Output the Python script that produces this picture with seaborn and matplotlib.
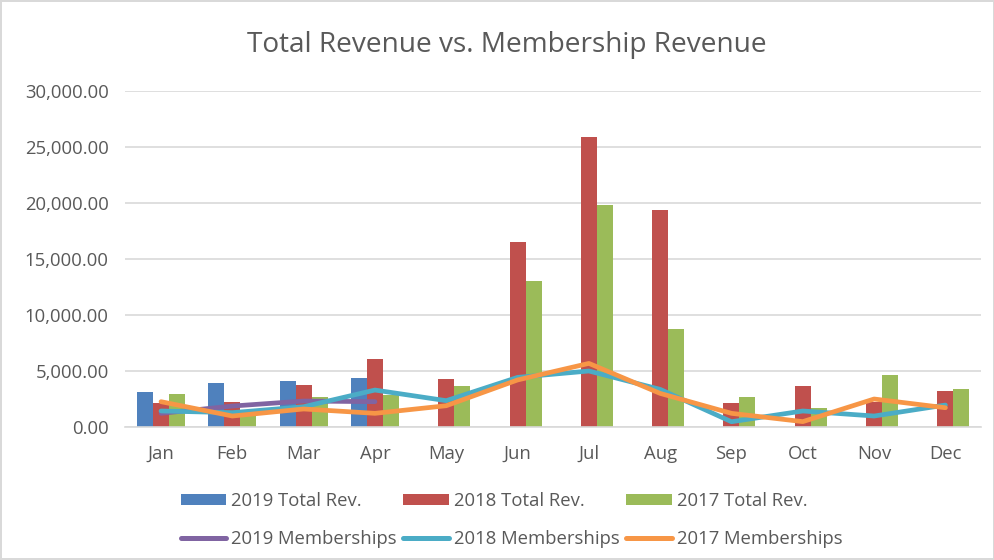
import numpy as np
import pandas as pd
import matplotlib
matplotlib.use("Agg")
import matplotlib.pyplot as plt
import seaborn as sns
from matplotlib.ticker import FuncFormatter, MultipleLocator
from matplotlib.patches import Patch
from matplotlib.lines import Line2D

months = ["Jan", "Feb", "Mar", "Apr", "May", "Jun", "Jul", "Aug", "Sep", "Oct", "Nov", "Dec"]
rev_2019 = [3150, 3900, 4130, 4400]
rev_2018 = [2170, 2230, 3780, 6070, 4310, 16500, 25890, 19380, 2110, 3690, 2260, 3190]
rev_2017 = [2950, 1340, 2680, 2860, 3630, 13040, 19820, 8750, 2710, 1700, 4670, 3420]
mem_2019 = [1220, 1870, 2320, 2260]
mem_2018 = [1430, 1280, 1810, 3300, 2350, 4430, 5000, 3360, 470, 1430, 980, 1960]
mem_2017 = [2260, 980, 1610, 1220, 1900, 4200, 5680, 3000, 1220, 480, 2500, 1720]

bar_labels = ["2019 Total Rev.", "2018 Total Rev.", "2017 Total Rev."]
line_labels = ["2019 Memberships", "2018 Memberships", "2017 Memberships"]
bar_colors = ["#4F81BD", "#C0504D", "#9BBB59"]
line_colors = ["#8064A2", "#4BACC6", "#F79646"]
text_color = "#595959"

sns.set_theme(style="white")
plt.rcParams["font.family"] = ["Open Sans", "DejaVu Sans"]

rows = []
for lab, vals in zip(bar_labels, [rev_2019, rev_2018, rev_2017]):
    for m, v in zip(months, vals):
        rows.append({"Month": m, "Series": lab, "Value": v})
bars_df = pd.DataFrame(rows)

lrows = []
for lab, vals in zip(line_labels, [mem_2019, mem_2018, mem_2017]):
    for i, v in enumerate(vals):
        lrows.append({"pos": i, "Series": lab, "Value": v})
lines_df = pd.DataFrame(lrows)

fig = plt.figure(figsize=(9.95, 5.6), dpi=100)
fig.patch.set_edgecolor("#D9D9D9")
fig.patch.set_linewidth(1.5)
ax = fig.add_axes([0.126, 0.2375, 0.86, 0.6])

sns.barplot(data=bars_df, x="Month", y="Value", hue="Series", order=months,
            hue_order=bar_labels, palette=bar_colors, width=0.673,
            errorbar=None, saturation=1, ax=ax, legend=False, linewidth=0)

sns.lineplot(data=lines_df, x="pos", y="Value", hue="Series", hue_order=line_labels,
             palette=line_colors, linewidth=3.4, ax=ax, legend=False,
             solid_capstyle="round", solid_joinstyle="round")

ax.set_xlim(-0.5, 11.5)
ax.set_ylim(0, 30000)
ax.yaxis.set_major_locator(MultipleLocator(5000))
ax.yaxis.set_major_formatter(FuncFormatter(lambda v, p: f"{v:,.2f}"))
ax.set_xticks(range(len(months)))
ax.set_xticklabels(months)
ax.grid(axis="y", color="#D9D9D9", linewidth=1.2)
ax.set_axisbelow(True)
for s in ["top", "right", "left"]:
    ax.spines[s].set_visible(False)
ax.spines["bottom"].set_color("#D9D9D9")
ax.spines["bottom"].set_linewidth(1.2)
ax.tick_params(axis="both", length=0, labelsize=13.3, colors=text_color)
ax.tick_params(axis="x", pad=13)
ax.tick_params(axis="y", pad=12)
ax.set_xlabel("")
ax.set_ylabel("")

fig.text(0.509, 0.92, "Total Revenue vs. Membership Revenue", ha="center", va="center",
         fontsize=20.2, color=text_color)

handles = []
labels = []
for bl, bc, ll, lc in zip(bar_labels, bar_colors, line_labels, line_colors):
    handles.append(Patch(facecolor=bc, edgecolor="none"))
    labels.append(bl)
    handles.append(Line2D([0], [0], color=lc, linewidth=3.6, solid_capstyle="round"))
    labels.append(ll)

leg = fig.legend(handles, labels, ncol=3, loc="center", bbox_to_anchor=(0.514, 0.071),
                 frameon=False, fontsize=13.3, handlelength=2.45, handleheight=0.6,
                 handletextpad=0.27, columnspacing=0.38, labelspacing=1.1)
for t in leg.get_texts():
    t.set_color(text_color)

fig.savefig("out.png", dpi=100)
